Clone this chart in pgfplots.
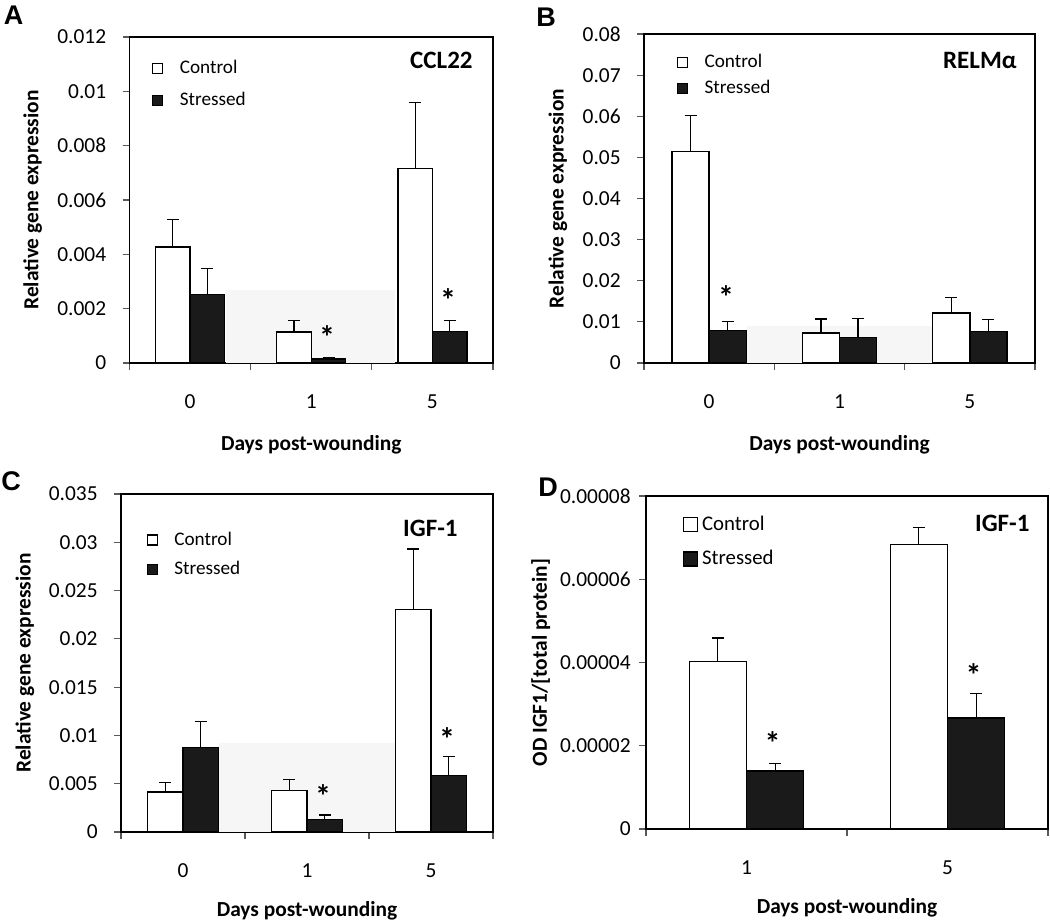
\documentclass[border=0pt]{standalone}
\usepackage{fontspec}
\setmainfont{Carlito}
\newfontfamily\letterfont{Liberation Sans}
\usepackage{pgfplots}
\pgfplotsset{compat=1.18}
\definecolor{barblack}{HTML}{1A1A1A}
\definecolor{faintgray}{HTML}{F6F6F6}
\pgfplotsset{
  panel/.style={
    scale only axis, anchor=south west, clip=false,
    ymin=0,
    axis line style={black, line width=0.75pt},
    tick align=outside, xtick pos=left, ytick pos=left,
    major tick length=3.5pt, minor tick length=3.5pt,
    tick style={gray!70!black, line width=0.6pt},
    major x tick style={draw=none},
    scaled y ticks=false,
    /pgf/number format/assume math mode=true,
    yticklabel style={inner sep=0pt, xshift=-8pt},
    xticklabel style={yshift=-9pt},
    label style={font=\fontsize{10.7}{12.8}\selectfont\bfseries},
    xlabel={Days post-wounding},
    xlabel style={at={(axis description cs:0.5,0)}, anchor=north, yshift=-32.5pt},
    legend style={draw=none, fill=none, legend cell align=left, font=\fontsize{9.6}{11}\selectfont, row sep=4pt},
    legend image code/.code={\draw[#1, line width=0.6pt] (0pt,-2.5pt) rectangle (5pt,2.5pt); \path[draw=none,fill=none] (0pt,0pt) -- (11.5pt,0pt);},
  },
  ctrl/.style={ybar, bar width=0.285, bar shift=0, fill=white, draw=black, line width=0.7pt,
    error bars/.cd, y dir=plus, y explicit,
    error bar style={line width=0.6pt, black},
    error mark options={rotate=90, mark size=3pt, line width=0.6pt, black}},
  strs/.style={ybar, bar width=0.285, bar shift=0, fill=barblack, draw=black, line width=0.7pt,
    error bars/.cd, y dir=plus, y explicit,
    error bar style={line width=0.6pt, black},
    error mark options={rotate=90, mark size=3pt, line width=0.6pt, black}},
}
\tikzset{
  star/.style={font=\fontsize{16}{16}\selectfont\bfseries, inner sep=0pt, yshift=-2pt},
  ttl/.style={anchor=east, inner sep=0pt, font=\fontsize{12.5}{14}\selectfont\bfseries},
  plet/.style={font=\letterfont\fontsize{13.5}{14}\selectfont\bfseries, inner sep=0pt},
}
\begin{document}
\begin{tikzpicture}[font=\fontsize{10.7}{12.8}\selectfont]
\useasboundingbox (0,0) rectangle (525pt,-460.5pt);

% Panel A
\begin{axis}[panel, at={(64.75pt,-181.5pt)}, width=181.75pt, height=163pt,
  xmin=-0.5, xmax=2.5, xtick={0,1,2}, xticklabels={0,1,5},
  minor xtick={-0.5,0.5,1.5,2.5},
  ymax=0.012, ytick={0,0.002,0.004,0.006,0.008,0.01,0.012},
  yticklabels={0,0.002,0.004,0.006,0.008,0.01,0.012},
  ylabel={Relative gene expression},
  ylabel style={at={(axis description cs:-0.2665,0.5)}, anchor=center},
  legend style={at={(rel axis cs:0.045,0.955)}, anchor=north west}]
\fill[faintgray] (axis cs:0.30,0) rectangle (axis cs:1.69,0.0027);
\addplot[ctrl] coordinates {(-0.1425,0.00427) +- (0,0.00102) (0.8575,0.00114) +- (0,0.00041) (1.8575,0.00717) +- (0,0.00243)};
\addlegendentry{Control}
\addplot[strs] coordinates {(0.1425,0.00253) +- (0,0.00095) (1.1425,0.00015) +- (0,0.00005) (2.1425,0.00117) +- (0,0.0004)};
\addlegendentry{Stressed}
\node[star] at (axis cs:1.13,0.0011) {*};
\node[star] at (axis cs:2.13,0.00245) {*};
\node[ttl] at (rel axis cs:0.945,0.929) {CCL22};
\end{axis}

% Panel B
\begin{axis}[panel, at={(322pt,-181.5pt)}, width=195.5pt, height=164.5pt,
  xmin=-0.5, xmax=2.5, xtick={0,1,2}, xticklabels={0,1,5},
  minor xtick={-0.5,0.5,1.5,2.5},
  ymax=0.08, ytick={0,0.01,0.02,0.03,0.04,0.05,0.06,0.07,0.08},
  yticklabels={0,0.01,0.02,0.03,0.04,0.05,0.06,0.07,0.08},
  ylabel={Relative gene expression},
  ylabel style={at={(axis description cs:-0.22,0.5)}, anchor=center},
  legend style={at={(rel axis cs:0.068,0.965)}, anchor=north west, row sep=1pt}]
\fill[faintgray] (axis cs:0.29,0) rectangle (axis cs:1.715,0.0089);
\addplot[ctrl] coordinates {(-0.1425,0.0515) +- (0,0.0087) (0.8575,0.0073) +- (0,0.0034) (1.8575,0.0122) +- (0,0.0037)};
\addlegendentry{Control}
\addplot[strs] coordinates {(0.1425,0.0079) +- (0,0.0021) (1.1425,0.0062) +- (0,0.0047) (2.1425,0.0076) +- (0,0.003)};
\addlegendentry{Stressed}
\node[star] at (axis cs:0.13,0.017) {*};
\node[ttl] at (rel axis cs:0.954,0.921) {RELMα};
\end{axis}

% Panel C
\begin{axis}[panel, at={(60.5pt,-416pt)}, width=186pt, height=169pt,
  xmin=-0.5, xmax=2.5, xtick={0,1,2}, xticklabels={0,1,5},
  minor xtick={-0.5,0.5,1.5,2.5},
  ymax=0.035, ytick={0,0.005,0.01,0.015,0.02,0.025,0.03,0.035},
  yticklabels={0,0.005,0.01,0.015,0.02,0.025,0.03,0.035},
  ylabel={Relative gene expression},
  ylabel style={at={(axis description cs:-0.258,0.5)}, anchor=center},
  xlabel style={yshift=1.5pt},
  legend style={at={(rel axis cs:0.052,0.913)}, anchor=north west, row sep=2.5pt}]
\fill[faintgray] (axis cs:0.29,0) rectangle (axis cs:1.71,0.0092);
\addplot[ctrl] coordinates {(-0.1425,0.00415) +- (0,0.001) (0.8575,0.00432) +- (0,0.00108) (1.8575,0.02303) +- (0,0.00627)};
\addlegendentry{Control}
\addplot[strs] coordinates {(0.1425,0.00875) +- (0,0.0027) (1.1425,0.0013) +- (0,0.00046) (2.1425,0.00584) +- (0,0.00201)};
\addlegendentry{Stressed}
\node[star] at (axis cs:1.13,0.00415) {*};
\node[star] at (axis cs:2.13,0.01003) {*};
\node[ttl] at (rel axis cs:0.906,0.899) {IGF-1};
\end{axis}

% Panel D
\begin{axis}[panel, at={(323pt,-414.5pt)}, width=201pt, height=166.5pt,
  xmin=-0.5, xmax=1.5, xtick={0,1}, xticklabels={1,5},
  minor xtick={-0.5,0.5,1.5},
  ymax=0.00008, ytick={0,0.00002,0.00004,0.00006,0.00008},
  yticklabels={0,0.00002,0.00004,0.00006,0.00008},
  yticklabel style={xshift=4pt},
  ylabel={OD IGF1/[total protein]},
  ylabel style={at={(axis description cs:-0.262,0.5)}, anchor=center},
  xlabel style={yshift=1.5pt},
  legend style={at={(rel axis cs:0.076,0.966)}, anchor=north west, row sep=4.5pt, font=\fontsize{10.4}{12}\selectfont},
  legend image code/.code={\draw[#1, line width=0.6pt] (0pt,-3.5pt) rectangle (7pt,3.5pt);}]
\addplot[ctrl] coordinates {(-0.1425,4.02e-5) +- (0,0.57e-5) (0.8575,6.84e-5) +- (0,0.40e-5)};
\addlegendentry{Control}
\addplot[strs] coordinates {(0.1425,1.395e-5) +- (0,0.185e-5) (1.1425,2.67e-5) +- (0,0.58e-5)};
\addlegendentry{Stressed}
\node[star] at (axis cs:0.13,2.15e-5) {*};
\node[star] at (axis cs:1.13,3.79e-5) {*};
\node[ttl] at (rel axis cs:0.955,0.919) {IGF-1};
\end{axis}

% panel letters
\node[plet] at (6.75pt,-7.5pt) {A};
\node[plet] at (273pt,-8.5pt) {B};
\node[plet] at (5.5pt,-240.5pt) {C};
\node[plet] at (274pt,-243.5pt) {D};
\end{tikzpicture}
\end{document}
